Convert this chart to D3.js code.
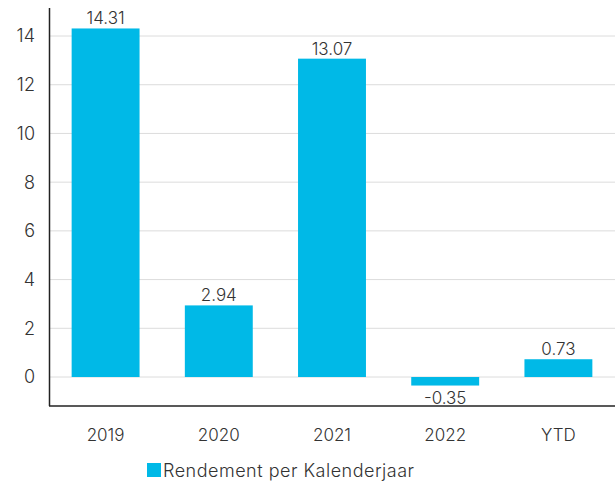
<!DOCTYPE html>
<html>
<head>
<meta charset="utf-8">
<script src="https://d3js.org/d3.v7.min.js"></script>
<style>
  body { margin: 0; background: #fff; }
  text { font-family: Inter, "Open Sans", sans-serif; font-weight: 300; fill: #333; }
</style>
</head>
<body>
<div id="chart"></div>
<script>
var categories = ["2019", "2020", "2021", "2022", "YTD"];
var values = [14.31, 2.94, 13.07, -0.35, 0.73];
var yTicks = [0, 2, 4, 6, 8, 10, 12, 14];
var seriesName = "Rendement per Kalenderjaar";

var W = 615, H = 483;
var margin = {top: 8, right: 0, bottom: 77, left: 49};
var width = W - margin.left - margin.right,
    height = H - margin.top - margin.bottom;

var svg = d3.select("#chart").append("svg")
    .attr("width", W).attr("height", H);
var g = svg.append("g")
    .attr("transform", "translate(" + margin.left + "," + margin.top + ")");

var x = d3.scaleBand().domain(categories).range([0, width])
    .paddingInner(0.4).paddingOuter(0.2);
var y = d3.scaleLinear().domain([-1.19, 15.15]).range([height, 0]);

// gridlines
g.selectAll(".grid").data(yTicks).enter().append("line")
    .attr("x1", 0).attr("x2", width)
    .attr("y1", d => y(d)).attr("y2", d => y(d))
    .attr("stroke", "#dcdcdc").attr("stroke-width", 1);

// y tick labels
g.selectAll(".ytick").data(yTicks).enter().append("text")
    .attr("x", -14).attr("y", d => y(d)).attr("dy", "0.36em")
    .attr("text-anchor", "end").style("font-size", "18px")
    .text(d => d);

// bars
g.selectAll(".bar").data(values).enter().append("rect")
    .attr("x", (d, i) => x(categories[i]))
    .attr("width", x.bandwidth())
    .attr("y", d => y(Math.max(0, d)))
    .attr("height", d => Math.abs(y(d) - y(0)))
    .attr("fill", "#00b9e7");

// value labels
g.selectAll(".val").data(values).enter().append("text")
    .attr("x", (d, i) => x(categories[i]) + x.bandwidth() / 2)
    .attr("y", d => d >= 0 ? y(d) - 4 : y(d) + 18)
    .attr("text-anchor", "middle").style("font-size", "17px")
    .text(d => d.toFixed(2));

// axes lines
g.append("line").attr("x1", 0.5).attr("x2", 0.5).attr("y1", 0).attr("y2", height)
    .attr("stroke", "#222").attr("stroke-width", 1.5);
g.append("line").attr("x1", 0).attr("x2", width).attr("y1", height).attr("y2", height)
    .attr("stroke", "#222").attr("stroke-width", 1.5);

// x labels
g.selectAll(".xlab").data(categories).enter().append("text")
    .attr("x", d => x(d) + x.bandwidth() / 2)
    .attr("y", height + 35)
    .attr("text-anchor", "middle").style("font-size", "17px")
    .text(d => d);

// legend
svg.append("rect").attr("x", 147).attr("y", 463).attr("width", 14).attr("height", 14)
    .attr("fill", "#00b9e7");
svg.append("text").attr("x", 163).attr("y", 477).style("font-size", "18px")
    .style("letter-spacing", "0.5px")
    .text(seriesName);
</script>
</body>
</html>
